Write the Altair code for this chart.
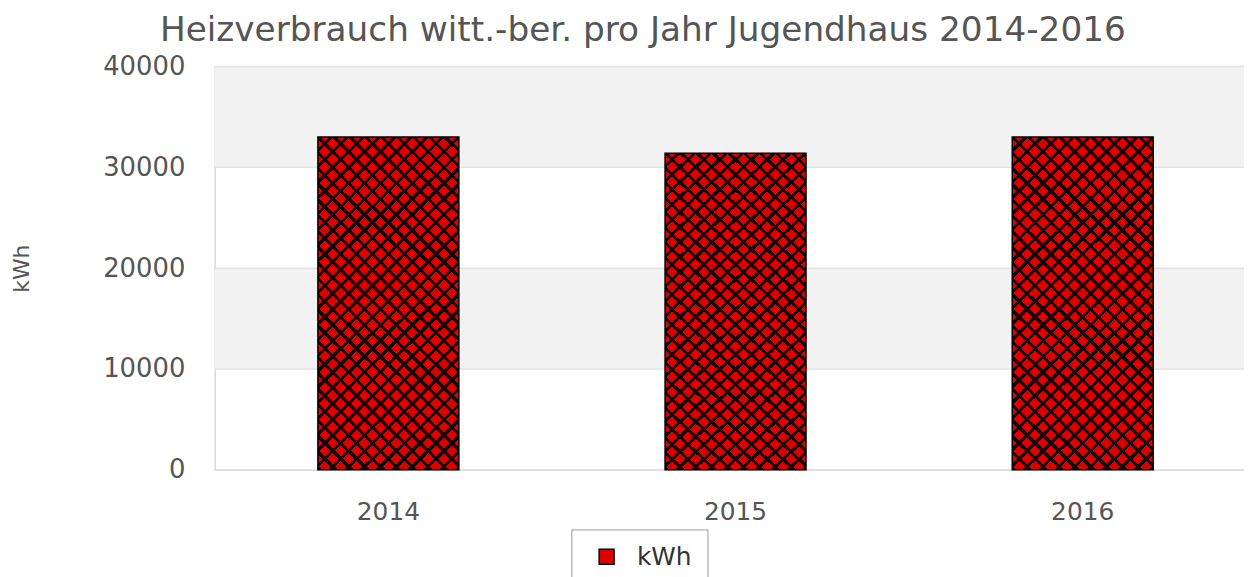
import altair as alt
import pandas as pd

years = ["2014", "2015", "2016"]
values = [33000, 31400, 33000]
series = ["kWh", "kWh", "kWh"]
band_lo = [10000, 30000]
band_hi = [20000, 40000]
ticks = [0, 10000, 20000, 30000, 40000]

bars_df = pd.DataFrame({"year": years, "value": values, "series": series})
bands_df = pd.DataFrame({"lo": band_lo, "hi": band_hi})
ticks_df = pd.DataFrame({"t": ticks})

W, H = 1036, 406
FONT = "DejaVu Sans"
TXT = "#555555"

yscale = alt.Scale(domain=[0, 40000], nice=False)
yaxis = alt.Axis(values=ticks, format="d", grid=False, ticks=False, labelPadding=30,
                 labelFontSize=26, labelFont=FONT, labelColor=TXT,
                 domainColor="#d8d8d8", domainWidth=1.5,
                 title="kWh", titleFont=FONT, titleFontSize=22, titleColor=TXT,
                 titleFontWeight="normal", titleX=-194, titleY=H / 2,
                 titleBaseline="middle", titleAngle=270)
xscale = alt.Scale(paddingInner=0.594, paddingOuter=0.2795, align=0.532)
xaxis = alt.Axis(title=None, labelAngle=0, ticks=False, labelPadding=30,
                 labelFontSize=25, labelFont=FONT, labelColor=TXT,
                 domainColor="#d8d8d8", domainWidth=1.5)

# hatch gradients (style only)
n = 30
def stops(frac=0.72, col="#1a0000"):
    s = []
    for i in range(n):
        s.append({"offset": i / n, "color": "rgba(0,0,0,0)"})
        s.append({"offset": (i + frac) / n, "color": "rgba(0,0,0,0)"})
        s.append({"offset": (i + frac) / n, "color": col})
        s.append({"offset": (i + 1) / n, "color": col})
    return s

g1 = {"gradient": "linear", "x1": 0, "y1": 0, "x2": 0.507, "y2": 1.207, "stops": stops()}
g2 = {"gradient": "linear", "x1": 1, "y1": 0, "x2": 0.493, "y2": 1.207, "stops": stops()}

bands = alt.Chart(bands_df).mark_rect(color="#f2f2f2").encode(
    y=alt.Y("lo:Q", scale=yscale, axis=yaxis), y2="hi:Q")

grid = alt.Chart(ticks_df).mark_rule(color="#e2e2e2", strokeWidth=1.5).encode(
    y=alt.Y("t:Q", scale=yscale, axis=yaxis))

x_enc = alt.X("year:N", scale=xscale, axis=xaxis)
y_enc = alt.Y("value:Q", scale=yscale, axis=yaxis)

base = alt.Chart(bars_df).mark_bar().encode(
    x=x_enc, y=y_enc,
    color=alt.Color("series:N", scale=alt.Scale(range=["#dd0000"]),
                    legend=alt.Legend(title=None, orient="none", legendX=359, legendY=466,
                                      symbolType="square", symbolSize=225,
                                      symbolFillColor="#b00000",
                                      symbolStrokeColor="#000000", symbolStrokeWidth=1.5,
                                      symbolOffset=8,
                                      labelFontSize=25, labelFont=FONT, labelColor="#333333",
                                      labelOffset=18, padding=15,
                                      strokeColor="#9a9a9a", fillColor="#ffffff")))

hatch1 = alt.Chart(bars_df).mark_bar(fill=g1).encode(x=x_enc, y=y_enc)
hatch2 = alt.Chart(bars_df).mark_bar(fill=g2).encode(x=x_enc, y=y_enc)
outline = alt.Chart(bars_df).mark_bar(fillOpacity=0, stroke="#000000", strokeWidth=1.5).encode(
    x=x_enc, y=y_enc)

chart = alt.layer(bands, grid, base, hatch1, hatch2, outline).properties(
    width=W, height=H,
    title=alt.TitleParams("Heizverbrauch witt.-ber. pro Jahr Jugendhaus 2014-2016",
                          font=FONT, fontSize=34.5, fontWeight="normal", color=TXT,
                          anchor="middle", dx=-87, offset=5),
    autosize=alt.AutoSizeParams(type="none"),
    padding={"left": 208, "top": 57, "right": 0, "bottom": 106},
).configure_view(stroke=None)

chart.save("out.html", embed_options={"renderer": "svg", "actions": False})
